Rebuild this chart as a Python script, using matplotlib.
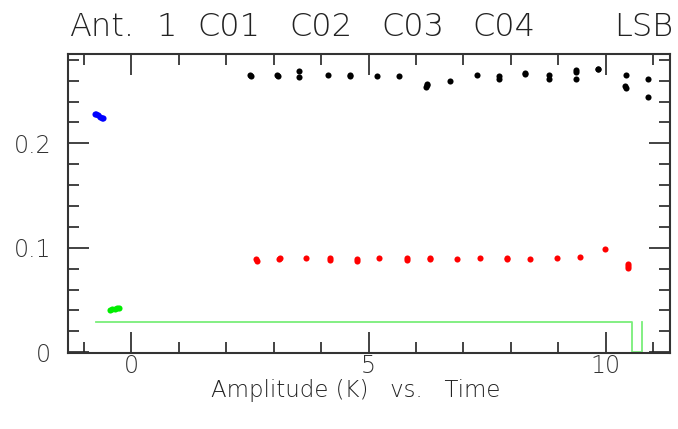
import matplotlib
matplotlib.use("Agg")
import matplotlib.pyplot as plt
from matplotlib.ticker import MultipleLocator

# Amplitude vs time, one colour per correlator unit
black_t = [2.51, 2.53, 3.08, 3.10, 3.54, 3.54, 4.14, 4.60, 4.61, 5.17, 5.65,
           6.21, 6.23, 6.24, 6.71, 7.28, 7.74, 7.74, 8.29, 8.30, 8.80, 8.80,
           9.37, 9.37, 9.37, 9.83, 9.84, 10.42, 10.41, 10.42, 10.89, 10.89]
black_amp = [0.2652, 0.2648, 0.2650, 0.2646, 0.2689, 0.2632, 0.2650, 0.2652,
             0.2646, 0.2641, 0.2648, 0.2538, 0.2555, 0.2572, 0.2598, 0.2651,
             0.2642, 0.2612, 0.2672, 0.2660, 0.2653, 0.2613, 0.2700, 0.2682,
             0.2612, 0.2712, 0.2707, 0.2652, 0.2545, 0.2530, 0.2611, 0.2440]

red_t = [2.64, 2.65, 3.12, 3.13, 3.69, 4.18, 4.19, 4.75, 4.76, 5.23, 5.80,
         5.81, 6.29, 6.30, 6.86, 7.34, 7.91, 7.92, 8.40, 8.97, 9.45, 9.98,
         10.46, 10.46, 10.46]
red_amp = [0.0890, 0.0875, 0.0888, 0.0897, 0.0897, 0.0897, 0.0886, 0.0889,
           0.0874, 0.0897, 0.0898, 0.0885, 0.0892, 0.0906, 0.0896, 0.0898,
           0.0905, 0.0893, 0.0896, 0.0899, 0.0912, 0.0985, 0.0845, 0.0825,
           0.0808]

blue_t = [-0.76, -0.73, -0.70, -0.66, -0.62, -0.60]
blue_amp = [0.2283, 0.2281, 0.2270, 0.2255, 0.2242, 0.2240]

green_t = [-0.45, -0.40, -0.35, -0.30, -0.26]
green_amp = [0.0405, 0.0412, 0.0418, 0.0421, 0.0421]

# reference level trace
level_t = [-0.75, 10.55, 10.55, 10.76, 10.76]
level_amp = [0.0287, 0.0287, 0.0, 0.0, 0.0287]

title_words = ["Ant.", "1", "C01", "C02", "C03", "C04"]
title_left_px = [69, 156, 197, 289, 381, 472]

xlim = (-1.33, 11.35)
ylim = (-0.0008, 0.2855)

font = {"family": "DejaVu Sans", "weight": "light"}
ink = "#222222"

fig = plt.figure(figsize=(6.78, 4.29), dpi=100)
ax = fig.add_axes([68 / 678, 1 - 353 / 429, 602 / 678, 299 / 429])

ax.plot(level_t, level_amp, color="#7aee7a", lw=1.3, zorder=1)
for t, a, c in [(black_t, black_amp, "black"), (red_t, red_amp, "#ff0000"),
                (blue_t, blue_amp, "#0000ff"), (green_t, green_amp, "#00ee00")]:
    ax.plot(t, a, "o", color=c, ms=4.4, mec="none", zorder=2)

ax.set_xlim(*xlim)
ax.set_ylim(*ylim)
ax.xaxis.set_minor_locator(MultipleLocator(1))
ax.yaxis.set_minor_locator(MultipleLocator(0.02))
ax.tick_params(which="both", direction="in", top=True, right=True,
               color="#222222", width=1.2, labelcolor="#333333")
ax.tick_params(which="major", length=15)
ax.tick_params(which="minor", length=8)
for s in ax.spines.values():
    s.set_linewidth(1.5)
    s.set_color("#333333")

ax.set_xticks([0, 5, 10])
ax.set_xticklabels(["0", "5", "10"], fontsize=17, **font)
ax.set_yticks([0, 0.1, 0.2])
ax.set_yticklabels(["0", "0.1", "0.2"], fontsize=17, **font)
ax.tick_params(axis="x", pad=1)
ax.tick_params(axis="y", pad=12)

fig.text(356 / 678, 1 - 397 / 429, "Amplitude (K)   vs.   Time", fontsize=16.5,
         ha="center", va="baseline", color=ink, **font)

for word, px in zip(title_words, title_left_px):
    fig.text(px / 678, 1 - 36 / 429, word, fontsize=23, ha="left",
             va="baseline", color=ink, **font)
fig.text(673 / 678, 1 - 36 / 429, "LSB", fontsize=23,
         ha="right", va="baseline", color=ink, **font)

fig.savefig("out.png", dpi=100)
